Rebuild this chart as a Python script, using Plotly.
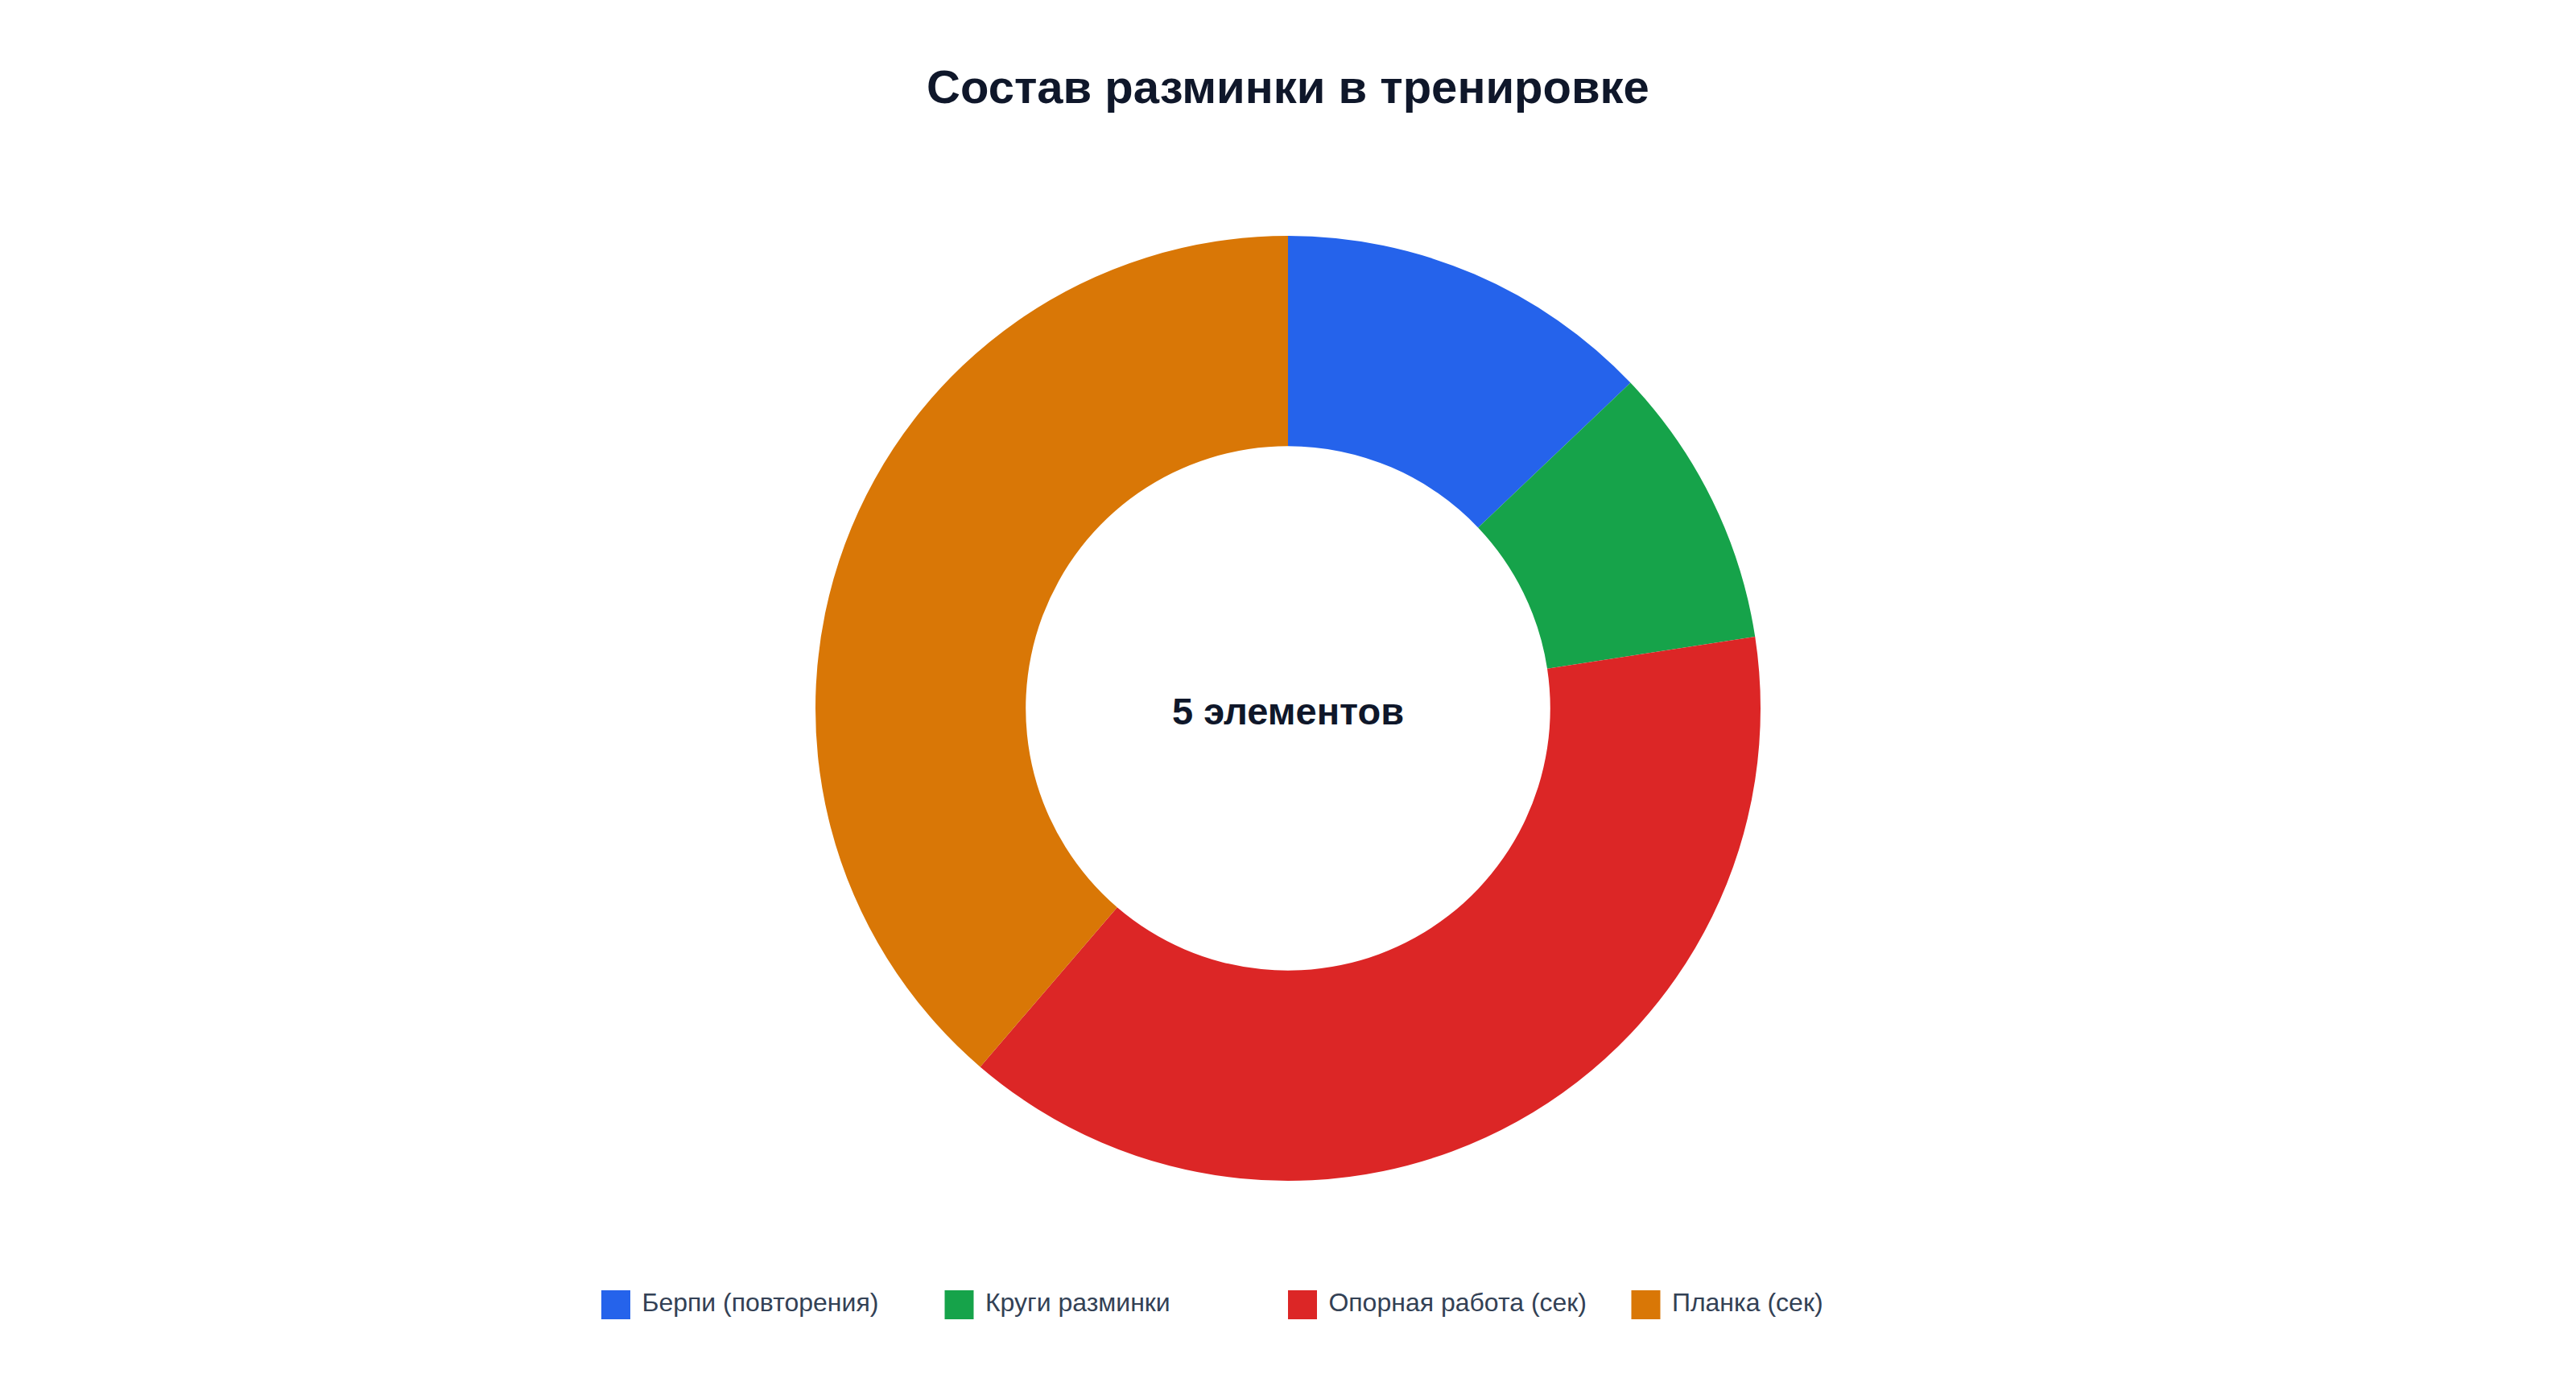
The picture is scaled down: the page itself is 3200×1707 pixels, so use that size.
import plotly.graph_objects as go

labels = ["Берпи (повторения)", "Круги разминки", "Опорная работа (сек)", "Планка (сек)"]
values = [20, 15, 60, 60]
colors = ["#2563eb", "#16a34a", "#dc2626", "#d97706"]
title = "Состав разминки в тренировке"
center_label = "5 элементов"

W, H = 3200, 1707
off = 8  # page body margin

fig = go.Figure()

fig.add_trace(go.Pie(
    labels=labels,
    values=values,
    hole=0.555,
    sort=False,
    direction="clockwise",
    rotation=0,
    marker=dict(colors=colors, line=dict(width=0)),
    textinfo="none",
    hoverinfo="label+value",
    showlegend=False,
    domain=dict(x=[0, 1 - 2 * off / W], y=[1 - (1467 - off) / H, 1 - (293 - off) / H]),
))

# legend row drawn as square markers with labels
idx = list(range(len(labels)))
fig.add_trace(go.Scatter(
    x=idx,
    y=[0] * len(idx),
    mode="markers+text",
    marker=dict(symbol="square", size=36, color=colors),
    text=[" " + l for l in labels],
    textposition="middle right",
    textfont=dict(size=32, color="#334155", family="Liberation Sans, Arial, sans-serif"),
    hoverinfo="skip",
    showlegend=False,
    cliponaxis=False,
))

step = 426.5
x0 = 765 - off
y0 = 1621 - off
fig.update_xaxes(visible=False, range=[-x0 / step, (W - x0) / step], fixedrange=True)
fig.update_yaxes(visible=False, range=[-(1 - y0 / H), y0 / H], fixedrange=True)

fig.add_annotation(
    text="<b>" + center_label + "</b>",
    x=0.5 - off / W, y=1 - (884 - off) / H, xref="paper", yref="paper",
    showarrow=False,
    font=dict(size=47, color="#0f172a", family="Liberation Sans, Arial, sans-serif"),
)

fig.update_layout(
    width=W,
    height=H,
    margin=dict(l=0, r=0, t=0, b=0),
    paper_bgcolor="white",
    plot_bgcolor="white",
    title=dict(
        text="<b>" + title + "</b>",
        x=0.5 - off / W, xanchor="center",
        y=1 - (108 - off) / H, yanchor="middle",
        font=dict(size=58, color="#0f172a", family="Liberation Sans, Arial, sans-serif"),
    ),
    font=dict(family="Liberation Sans, Arial, sans-serif"),
)

fig.write_html("out.html")
